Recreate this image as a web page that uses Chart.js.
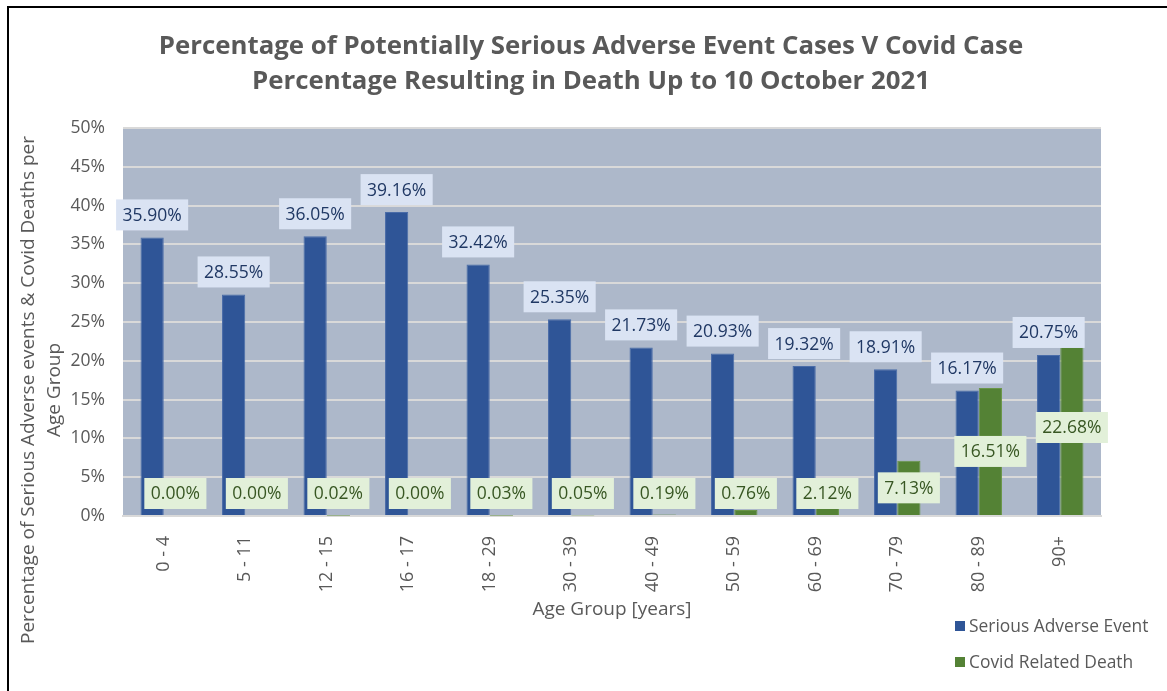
<!DOCTYPE html>
<html>
<head>
<meta charset="utf-8">
<script src="https://cdn.jsdelivr.net/npm/chart.js@4/dist/chart.umd.min.js"></script>
<style>
  html,body{margin:0;padding:0;background:#fff;}
  #wrap{width:1167px;height:691px;position:relative;}
</style>
</head>
<body>
<div id="wrap"><canvas id="c" width="1167" height="691"></canvas></div>
<script>
// data
const ageGroups = ['0 - 4','5 - 11','12 - 15','16 - 17','18 - 29','30 - 39','40 - 49','50 - 59','60 - 69','70 - 79','80 - 89','90+'];
const seriousAdverse = [35.90,28.55,36.05,39.16,32.42,25.35,21.73,20.93,19.32,18.91,16.17,20.75];
const covidDeath = [0.00,0.00,0.02,0.00,0.03,0.05,0.19,0.76,2.12,7.13,16.51,22.68];
const titleLines = ['Percentage of Potentially Serious Adverse Event Cases V Covid Case','Percentage Resulting in Death Up to 10 October 2021'];
const yTitleLines = ['Percentage of Serious Adverse events & Covid Deaths per','Age Group'];
const xTitle = 'Age Group [years]';

const FONT = '"Open Sans", "Noto Sans", sans-serif';
const GREY = '#595959';
const BLUE = '#2F5597', GREEN = '#548235';

// plot background
const plotBg = {
  id:'plotBg',
  beforeDraw(chart){
    const {ctx, chartArea:a} = chart;
    ctx.save();
    ctx.fillStyle = '#fff';
    ctx.fillRect(0,0,chart.width,chart.height);
    ctx.fillStyle = '#ADB8CA';
    ctx.fillRect(a.left,a.top,a.right-a.left,a.bottom-a.top);
    ctx.restore();
  }
};

// labels, titles, legend, frame
const extras = {
  id:'extras',
  afterDatasetsDraw(chart){
    const ctx = chart.ctx, a = chart.chartArea;
    ctx.save();
    ctx.font = '17.5px ' + FONT;
    ctx.textAlign = 'center';
    ctx.textBaseline = 'middle';
    const boxH = 31;
    // blue labels above bars
    chart.getDatasetMeta(0).data.forEach((bar,i)=>{
      const txt = seriousAdverse[i].toFixed(2)+'%';
      const w = ctx.measureText(txt).width + 13;
      const cy = bar.y - 7 - boxH/2;
      ctx.fillStyle = '#DAE3F3';
      ctx.fillRect(bar.x - w/2, cy - boxH/2, w, boxH);
      ctx.fillStyle = '#203864';
      ctx.fillText(txt, bar.x, cy+1);
    });
    // green labels centred in bars
    chart.getDatasetMeta(1).data.forEach((bar,i)=>{
      const txt = covidDeath[i].toFixed(2)+'%';
      const w = ctx.measureText(txt).width + 13;
      let cy = (bar.y + bar.base)/2;
      cy = Math.min(cy, a.bottom - 22.5);
      ctx.fillStyle = '#E2F0D9';
      ctx.fillRect(bar.x - w/2, cy - boxH/2, w, boxH);
      ctx.fillStyle = '#385723';
      ctx.fillText(txt, bar.x, cy+1);
    });
    ctx.restore();
  },
  afterDraw(chart){
    const ctx = chart.ctx, a = chart.chartArea;
    ctx.save();
    // title
    ctx.fillStyle = GREY;
    ctx.textAlign = 'center';
    ctx.textBaseline = 'middle';
    ctx.font = 'bold 25.8px ' + FONT;
    ctx.fillText(titleLines[0], 591, 47);
    ctx.fillText(titleLines[1], 591, 82);
    // y title
    ctx.font = '19px ' + FONT;
    ctx.save();
    ctx.translate(29, 390);
    ctx.rotate(-Math.PI/2);
    ctx.fillText(yTitleLines[0], 0, 0);
    ctx.fillText(yTitleLines[1], 0, 26);
    ctx.restore();
    // x title
    ctx.fillText(xTitle, (a.left+a.right)/2, 610);
    // legend
    ctx.textAlign = 'left';
    ctx.font = '17.4px ' + FONT;
    [[seriousAdverse,'Serious Adverse Event',BLUE,626],[covidDeath,'Covid Related Death',GREEN,662]].forEach(([_,name,col,y])=>{
      ctx.fillStyle = col;
      ctx.fillRect(955, y-5, 10, 10);
      ctx.fillStyle = GREY;
      ctx.fillText(name, 969, y+1);
    });
    // frame
    ctx.fillStyle = '#000';
    ctx.fillRect(7, 6, chart.width-7, 2);
    ctx.fillRect(7, 6, 2, chart.height-6);
    ctx.restore();
  }
};

new Chart(document.getElementById('c'), {
  type:'bar',
  data:{
    labels: ageGroups,
    datasets:[
      {label:'Serious Adverse Event', data: seriousAdverse, backgroundColor: BLUE, borderColor:'#4A6CA8', borderWidth:1, categoryPercentage:0.57, barPercentage:1},
      {label:'Covid Related Death', data: covidDeath, backgroundColor: GREEN, borderColor:'#6A9548', borderWidth:1, categoryPercentage:0.57, barPercentage:1}
    ]
  },
  options:{
    responsive:false,
    animation:false,
    devicePixelRatio:1,
    layout:{padding:{left:0,right:66,top:128,bottom:0}},
    plugins:{legend:{display:false}, title:{display:false}, tooltip:{enabled:false}},
    scales:{
      x:{
        grid:{display:false, drawTicks:false},
        border:{display:true, color:'#D9D9D9', width:2},
        ticks:{color:GREY, font:{family:FONT, size:18}, minRotation:90, maxRotation:90, padding:20, autoSkip:false},
        afterFit(s){ s.height = 175; }
      },
      y:{
        min:0, max:50,
        grid:{color:'#D9D9D9', lineWidth:2, drawTicks:false},
        border:{display:false},
        ticks:{stepSize:5, color:GREY, font:{family:FONT, size:17.5}, padding:18, callback:v=>v+'%'},
        afterFit(s){ s.width = 123; }
      }
    }
  },
  plugins:[plotBg, extras]
});
</script>
</body>
</html>
